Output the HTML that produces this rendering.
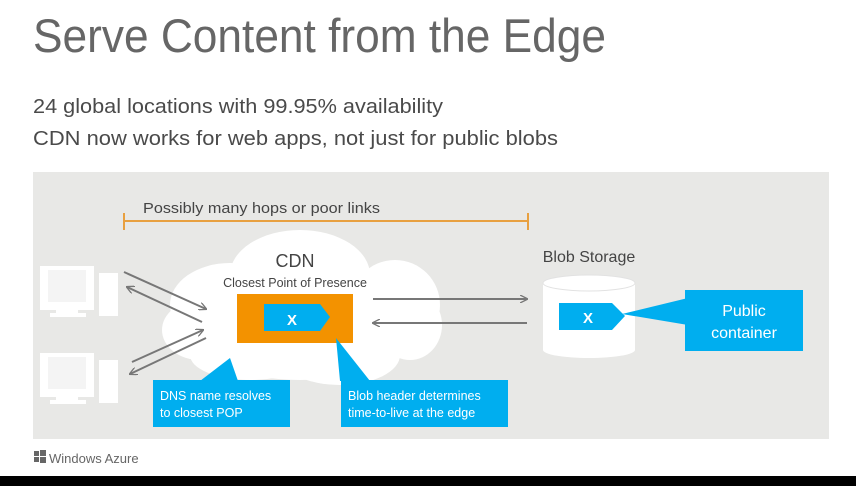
<!DOCTYPE html>
<html><head><meta charset="utf-8"><style>
html,body{margin:0;padding:0;background:#fff;}
svg{display:block;}
text{font-family:"Liberation Sans",sans-serif;}
</style></head><body>
<svg width="856" height="486" viewBox="0 0 856 486" xmlns="http://www.w3.org/2000/svg">
<rect width="856" height="486" fill="#fff"/>
<text x="33" y="52" font-size="47" fill="#666" textLength="573" lengthAdjust="spacingAndGlyphs">Serve Content from the Edge</text>
<text x="33" y="113" font-size="20" fill="#4a4a4a" textLength="410" lengthAdjust="spacingAndGlyphs">24 global locations with 99.95% availability</text>
<text x="33" y="145" font-size="20" fill="#4a4a4a" textLength="525" lengthAdjust="spacingAndGlyphs">CDN now works for web apps, not just for public blobs</text>
<rect x="33" y="172" width="796" height="267" fill="#e8e8e6"/>
<line x1="123" y1="221" x2="528" y2="221" stroke="#e8a040" stroke-width="2"/>
<line x1="124" y1="213" x2="124" y2="230" stroke="#e8a040" stroke-width="2"/>
<line x1="528" y1="213" x2="528" y2="230" stroke="#e8a040" stroke-width="2"/>
<text x="143" y="213" font-size="14.5" fill="#444" textLength="237" lengthAdjust="spacingAndGlyphs">Possibly many hops or poor links</text>
<g fill="#fff">
<ellipse cx="300" cy="275" rx="70" ry="45"/>
<ellipse cx="230" cy="305" rx="60" ry="42"/>
<ellipse cx="200" cy="330" rx="38" ry="30"/>
<ellipse cx="395" cy="305" rx="45" ry="45"/>
<ellipse cx="410" cy="325" rx="32" ry="35"/>
<ellipse cx="300" cy="330" rx="110" ry="50"/>
<ellipse cx="340" cy="355" rx="60" ry="30"/>
<ellipse cx="250" cy="355" rx="60" ry="25"/>
</g>
<text x="295" y="267" font-size="18" fill="#444" text-anchor="middle">CDN</text>
<text x="295" y="287" font-size="12.5" fill="#444" text-anchor="middle">Closest Point of Presence</text>
<rect x="237" y="294" width="116" height="49" fill="#f39200"/>
<polygon points="264,304 320,304 330,317 320,331 264,331" fill="#00aeef"/>
<text x="292" y="325" font-size="15" font-weight="bold" fill="#fff" text-anchor="middle">X</text>
<polygon points="200,381 230,358 238,381" fill="#00aeef"/>
<rect x="153" y="380" width="137" height="47" fill="#00aeef"/>
<text x="160" y="400" font-size="12.5" fill="#fff">DNS name resolves</text>
<text x="160" y="417" font-size="12.5" fill="#fff">to closest POP</text>
<polygon points="340,381 336,338 370,381" fill="#00aeef"/>
<rect x="341" y="380" width="167" height="47" fill="#00aeef"/>
<text x="348" y="400" font-size="12.5" fill="#fff">Blob header determines</text>
<text x="348" y="417" font-size="12.5" fill="#fff">time-to-live  at the edge</text>
<g fill="#fff">
<rect x="40" y="266" width="54" height="44"/><rect x="48" y="270" width="38" height="32" fill="#f4f4f4"/>
<rect x="56" y="310" width="22" height="4"/><rect x="50" y="313" width="36" height="4"/>
<rect x="99" y="273" width="19" height="43"/>
<rect x="40" y="353" width="54" height="44"/><rect x="48" y="357" width="38" height="32" fill="#f4f4f4"/>
<rect x="56" y="397" width="22" height="4"/><rect x="50" y="400" width="36" height="4"/>
<rect x="99" y="360" width="19" height="43"/>
</g>
<defs><marker id="ah" markerWidth="8" markerHeight="8" refX="7" refY="4" orient="auto" markerUnits="userSpaceOnUse"><path d="M0,0 L8,4 L0,8" fill="none" stroke="#777" stroke-width="1.3"/></marker></defs>
<g stroke="#777" stroke-width="2" marker-end="url(#ah)">
<line x1="124" y1="272" x2="206" y2="309"/>
<line x1="202" y1="322" x2="127" y2="287"/>
<line x1="132" y1="362" x2="203" y2="330"/>
<line x1="206" y1="338" x2="130" y2="374"/>
<line x1="373" y1="299" x2="527" y2="299"/>
<line x1="527" y1="323" x2="373" y2="323"/>
</g>
<text x="589" y="262" font-size="16" fill="#444" text-anchor="middle">Blob Storage</text>
<path d="M543,283 L543,350 A46,8 0 0 0 635,350 L635,283 Z" fill="#fff"/>
<ellipse cx="589" cy="283" rx="46" ry="8" fill="#fff" stroke="#e2e2e2" stroke-width="1"/>
<polygon points="559,303 612,303 625,316 612,330 559,330" fill="#00aeef"/>
<text x="588" y="323" font-size="15" font-weight="bold" fill="#fff" text-anchor="middle">X</text>
<polygon points="622,314 688,298 688,325" fill="#00aeef"/>
<rect x="685" y="290" width="118" height="61" fill="#00aeef"/>
<text x="744" y="316" font-size="16" fill="#fff" text-anchor="middle">Public</text>
<text x="744" y="338" font-size="16" fill="#fff" text-anchor="middle">container</text>
<g fill="#666"><rect x="34" y="451" width="5" height="5"/><rect x="40" y="450" width="6" height="6"/><rect x="34" y="457" width="5" height="5"/><rect x="40" y="457" width="6" height="6"/></g>
<text x="49" y="463" font-size="13" fill="#666">Windows Azure</text>
<rect x="0" y="476" width="856" height="10" fill="#000"/>
</svg>
</body></html>
